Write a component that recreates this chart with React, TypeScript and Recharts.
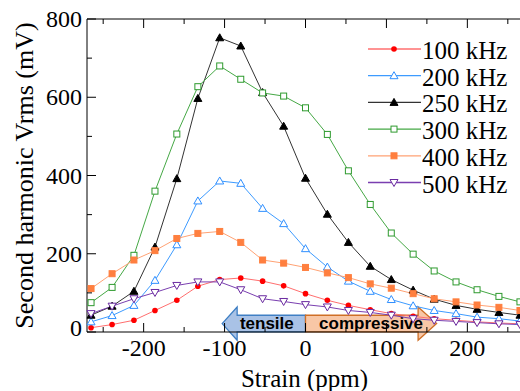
import React from 'react';
import { LineChart, Line, XAxis, YAxis, ReferenceArea } from 'recharts';

// strain (ppm) at each measured point
const strain = [-265, -239, -212, -186, -159, -133, -106, -80, -53, -27, 0, 27, 53, 80, 106, 133, 159, 186, 212, 239, 265];

// second harmonic Vrms (mV) per drive frequency
const v100 = [11, 19, 30, 55, 81, 117, 134, 138, 130, 118, 98, 81, 68, 57, 47, 40, 34, 30, 26, 23, 21];
const v200 = [26, 42, 68, 132, 223, 335, 386, 380, 316, 277, 213, 166, 130, 104, 83, 67, 55, 47, 38, 34, 28];
const v250 = [43, 66, 104, 217, 392, 597, 752, 731, 612, 526, 393, 301, 229, 168, 134, 107, 84, 68, 58, 50, 43];
const v300 = [75, 114, 196, 360, 506, 627, 680, 646, 611, 603, 573, 505, 412, 326, 253, 199, 156, 128, 108, 91, 77];
const v400 = [111, 149, 184, 208, 239, 252, 257, 229, 184, 176, 165, 151, 139, 123, 112, 98, 85, 77, 69, 63, 55];
const v500 = [47, 66, 85, 101, 119, 128, 128, 108, 85, 78, 70, 64, 55, 50, 43, 34, 30, 27, 24, 21, 19];

const xTicks = [-250, -200, -150, -100, -50, 0, 50, 100, 150, 200, 250];
const yTicks = [0, 100, 200, 300, 400, 500, 600, 700, 800];

const SERIF = '"Liberation Serif", "Times New Roman", serif';
const SANS = '"Liberation Sans", Arial, sans-serif';

type Shape = 'circle' | 'triUp' | 'square' | 'triDown';

const series = [
  { key: 'f100', label: '100 kHz', values: v100, line: '#ff6f6f', mark: '#ff0000', shape: 'circle' as Shape, filled: true },
  { key: 'f200', label: '200 kHz', values: v200, line: '#3d9bff', mark: '#2f8fff', shape: 'triUp' as Shape, filled: false },
  { key: 'f250', label: '250 kHz', values: v250, line: '#333333', mark: '#000000', shape: 'triUp' as Shape, filled: true },
  { key: 'f300', label: '300 kHz', values: v300, line: '#45a845', mark: '#2e9a2e', shape: 'square' as Shape, filled: false },
  { key: 'f400', label: '400 kHz', values: v400, line: '#ffa274', mark: '#ff7f3f', shape: 'square' as Shape, filled: true },
  { key: 'f500', label: '500 kHz', values: v500, line: '#7a3fb0', mark: '#6a2aa0', shape: 'triDown' as Shape, filled: false },
];

const data = strain.map((s, i) => {
  const row: Record<string, number> = { strain: s };
  series.forEach((ser) => {
    row[ser.key] = ser.values[i];
  });
  return row;
});

function Marker({ cx, cy, shape, color, filled }: { cx: number; cy: number; shape: Shape; color: string; filled: boolean }) {
  const fill = filled ? color : '#ffffff';
  if (shape === 'circle') return <circle cx={cx} cy={cy} r={2.8} fill={color} />;
  if (shape === 'square') return <rect x={cx - 3} y={cy - 3} width={6} height={6} fill={fill} stroke={color} strokeWidth={1} />;
  if (shape === 'triUp')
    return <polygon points={`${cx},${cy - 4} ${cx - 4},${cy + 3} ${cx + 4},${cy + 3}`} fill={fill} stroke={color} strokeWidth={1} />;
  return <polygon points={`${cx},${cy + 4} ${cx - 4},${cy - 3} ${cx + 4},${cy - 3}`} fill={fill} stroke={color} strokeWidth={1} />;
}

// tick renderers draw inward ticks (major longer than minor)
const BottomTick = (p: any) => {
  const v = p.payload.value;
  const major = v % 100 === 0;
  return (
    <g>
      <line x1={p.x} x2={p.x} y1={p.y} y2={p.y - (major ? 9 : 5)} stroke="#000" strokeWidth={1} />
      {major && (
        <text x={p.x} y={p.y + 23.5} textAnchor="middle" fontFamily={SERIF} fontSize={24} fill="#000">
          {v}
        </text>
      )}
    </g>
  );
};

const TopTick = (p: any) => {
  const major = p.payload.value % 100 === 0;
  return <line x1={p.x} x2={p.x} y1={p.y} y2={p.y + (major ? 9 : 5)} stroke="#000" strokeWidth={1} />;
};

const LeftTick = (p: any) => {
  const v = p.payload.value;
  const major = v % 200 === 0;
  return (
    <g>
      <line x1={p.x} x2={p.x + (major ? 9 : 5)} y1={p.y} y2={p.y} stroke="#000" strokeWidth={1} />
      {major && (
        <text x={p.x - 5} y={p.y + 8 - (v === 0 ? 4 : 0)} textAnchor="end" fontFamily={SERIF} fontSize={24} fill="#000">
          {v}
        </text>
      )}
    </g>
  );
};

const RightTick = (p: any) => {
  const major = p.payload.value % 200 === 0;
  return <line x1={p.x} x2={p.x - (major ? 9 : 5)} y1={p.y} y2={p.y} stroke="#000" strokeWidth={1} />;
};

// tensile / compressive double arrow, drawn inside the reference area box
const ARROW_X1 = -103;
const ARROW_X2 = 162;
const ArrowShape = (p: any) => {
  const { x, y, width, height } = p;
  const mid = x + (width * (0 - ARROW_X1)) / (ARROW_X2 - ARROW_X1);
  const cy = y + height / 2;
  const bh = height / 4;
  const right = x + width;
  const lh = 15;
  const rh = 18.5;
  const blue = `M ${x} ${cy} L ${x + lh} ${y} L ${x + lh} ${cy - bh} L ${mid} ${cy - bh} L ${mid} ${cy + bh} L ${x + lh} ${cy + bh} L ${x + lh} ${y + height} Z`;
  const orange = `M ${right} ${cy} L ${right - rh} ${y} L ${right - rh} ${cy - bh} L ${mid} ${cy - bh} L ${mid} ${cy + bh} L ${right - rh} ${cy + bh} L ${right - rh} ${y + height} Z`;
  return (
    <g>
      <path d={blue} fill="#a9c2e6" stroke="#3f7fc4" strokeWidth={1.3} />
      <path d={orange} fill="#f8c7a6" stroke="#cf6f26" strokeWidth={1.3} />
      <text x={(x + mid) / 2 + 3} y={cy + 5} textAnchor="middle" fontFamily={SANS} fontWeight="bold" fontSize={17} fill="#000">
        tensile
      </text>
      <text x={(mid + right) / 2} y={cy + 5} textAnchor="middle" fontFamily={SANS} fontWeight="bold" fontSize={17} fill="#000">
        compressive
      </text>
    </g>
  );
};

const LegendBox = () => (
  <svg width={160} height={175} style={{ position: 'absolute', left: 360, top: 30 }}>
    {series.map((s, i) => {
      const ry = 19 + i * 26.7;
      return (
        <g key={s.key}>
          <line x1={8} x2={61} y1={ry} y2={ry} stroke={s.line} strokeWidth={1.3} />
          <Marker cx={34} cy={ry} shape={s.shape} color={s.mark} filled={s.filled} />
          <text x={62} y={ry + 10} fontFamily={SERIF} fontSize={25} fill="#000">
            {s.label}
          </text>
        </g>
      );
    })}
  </svg>
);

export default function App() {
  return (
    <div style={{ position: 'absolute', left: 0, top: 0, width: 520, height: 391, overflow: 'hidden', background: '#fff' }}>
      <LineChart width={530} height={391} data={data} margin={{ top: 18, right: 5, bottom: 0, left: 0 }}>
        <XAxis
          dataKey="strain"
          type="number"
          domain={[-270, 270]}
          ticks={xTicks}
          interval={0}
          height={59}
          stroke="#000"
          tickLine={false}
          tickSize={0}
          tickMargin={0}
          tick={BottomTick}
          label={{
            content: (p: any) => {
              const vb = p.viewBox || { x: 87, y: 332, width: 437, height: 59 };
              return (
                <text x={vb.x + vb.width / 2 - 1} y={vb.y + 55} textAnchor="middle" fontFamily={SERIF} fontSize={25} fill="#000">
                  Strain (ppm)
                </text>
              );
            },
          }}
        />
        <XAxis
          xAxisId="top"
          orientation="top"
          dataKey="strain"
          type="number"
          domain={[-270, 270]}
          ticks={xTicks}
          interval={0}
          height={1}
          stroke="#000"
          tickLine={false}
          tickSize={0}
          tickMargin={0}
          tick={TopTick}
        />
        <YAxis
          type="number"
          domain={[0, 800]}
          ticks={yTicks}
          interval={0}
          width={87}
          stroke="#000"
          tickLine={false}
          tickSize={0}
          tickMargin={0}
          tick={LeftTick}
          label={{
            content: (p: any) => {
              const vb = p.viewBox || { x: 0, y: 19, width: 87, height: 313 };
              const cx = vb.x + 32.5;
              const cy = vb.y + vb.height / 2;
              return (
                <text x={cx} y={cy} transform={`rotate(-90 ${cx} ${cy})`} textAnchor="middle" fontFamily={SERIF} fontSize={26} fill="#000">
                  Second harmonic Vrms (mV)
                </text>
              );
            },
          }}
        />
        <YAxis
          yAxisId="right"
          orientation="right"
          type="number"
          domain={[0, 800]}
          ticks={yTicks}
          interval={0}
          width={1}
          stroke="#000"
          tickLine={false}
          tickSize={0}
          tickMargin={0}
          tick={RightTick}
        />
        <ReferenceArea x1={ARROW_X1} x2={ARROW_X2} y1={-21} y2={64} ifOverflow="visible" shape={ArrowShape} />
        {series.map((s) => (
          <Line
            key={s.key}
            dataKey={s.key}
            type="linear"
            stroke={s.line}
            strokeWidth={1}
            isAnimationActive={false}
            dot={(p: any) => (
              <Marker key={`${s.key}-${p.index}`} cx={p.cx} cy={p.cy} shape={s.shape} color={s.mark} filled={s.filled} />
            )}
            activeDot={false}
          />
        ))}
      </LineChart>
      <LegendBox />
    </div>
  );
}
